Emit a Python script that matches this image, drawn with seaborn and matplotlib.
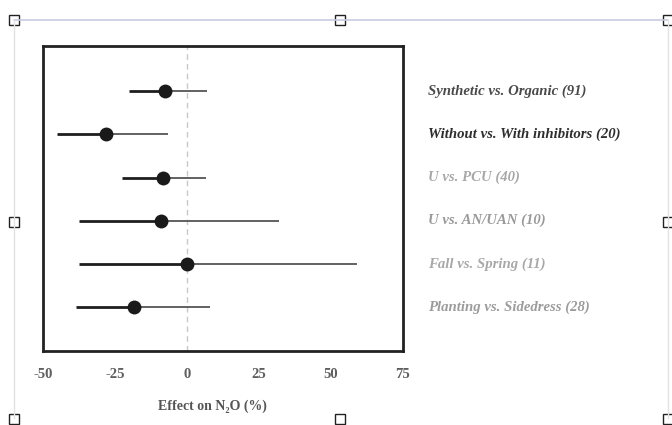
import numpy as np
import pandas as pd
import seaborn as sns
import matplotlib.pyplot as plt
from matplotlib.patches import Rectangle
from matplotlib.lines import Line2D
import matplotlib.transforms as mtransforms

# Comparisons (number of observations in brackets)
comparisons = [
    "Synthetic vs. Organic (91)",
    "Without vs. With inhibitors (20)",
    "U vs. PCU (40)",
    "U vs. AN/UAN (10)",
    "Fall vs. Spring (11)",
    "Planting vs. Sidedress (28)",
]
effect = [-7.5, -28.0, -8.5, -9.0, 0.0, -18.5]
ci_low = [-20.0, -45.0, -22.5, -37.5, -37.5, -38.5]
ci_high = [7.0, -6.5, 6.5, 32.0, 59.0, 8.0]
label_colors = ["#4a4a4a", "#2e2e2e", "#a8a8a8", "#9a9a9a", "#a8a8a8", "#9c9c9c"]
xticks = [-50, -25, 0, 25, 50, 75]

df = pd.DataFrame({"comparison": comparisons, "effect": effect,
                   "low": ci_low, "high": ci_high})
df["row"] = np.arange(len(df))

sns.set_style("white")
plt.rcParams["font.family"] = ["Liberation Serif", "DejaVu Serif"]

fig = plt.figure(figsize=(6.72, 4.25), dpi=100)
ax = fig.add_axes([43 / 672, 1 - 351 / 425, 360 / 672, 305 / 425])

# zero reference line
ax.axvline(0, color="#c8c8c8", lw=1.0, ls=(0, (4, 3)), zorder=0)

# confidence intervals: darker on the left of the mean, lighter on the right
ax.hlines(df["row"], df["low"], df["effect"], color="#1e1e1e", lw=2.0, zorder=2)
ax.hlines(df["row"], df["effect"], df["high"], color="#555555", lw=1.3, zorder=2)

sns.scatterplot(data=df, x="effect", y="row", ax=ax, s=100, color="#1a1a1a",
                edgecolor="#1a1a1a", linewidth=0, zorder=3, legend=False)

ax.set_xlim(-50, 75)
ax.set_ylim(len(df) - 1 + 1.02, -1.05)
ax.set_xticks(xticks)
ax.set_xticklabels([str(t) for t in xticks], fontweight="bold", fontsize=10.5)
ax.set_yticks([])
ax.set_ylabel("")
ax.tick_params(axis="x", direction="in", length=3, width=1.5, pad=12,
               color="#333333", labelcolor="#5e5e5e")
ax.set_xlabel("Effect on N\u2082O (%)", fontweight="bold", fontsize=10,
              color="#555555", labelpad=12)
ax.xaxis.set_label_coords(0.47, -0.16)
for sp in ax.spines.values():
    sp.set_visible(True)
    sp.set_color("#222222")
    sp.set_linewidth(2.0)

# comparison labels on the right
trans = mtransforms.blended_transform_factory(ax.transAxes, ax.transData)
for r, (name, c) in enumerate(zip(comparisons, label_colors)):
    ax.text(1.07, r, name, transform=trans, ha="left", va="center",
            fontsize=10.6, style="italic", fontweight="bold", color=c)

# scanned selection frame with handles
def fx(px):
    return px / 672

def fy(py):
    return 1 - py / 425

frame_col = "#c9cbe0"
fig.add_artist(Line2D([fx(14), fx(668)], [fy(20), fy(20)], color=frame_col, lw=1.2))
fig.add_artist(Line2D([fx(14), fx(14)], [fy(20), fy(418)], color="#e2e2e8", lw=1.0))
fig.add_artist(Line2D([fx(668), fx(668)], [fy(20), fy(418)], color="#e2e2e8", lw=1.0))
for hx, hy in [(14, 20), (340, 20), (668, 20), (14, 222), (668, 222),
               (14, 419), (340, 419), (668, 419)]:
    fig.add_artist(Rectangle((fx(hx - 5), fy(hy + 5)), 10 / 672, 10 / 425,
                             facecolor="white", edgecolor="#222222", lw=1.0))

fig.savefig("out.png", dpi=100)
